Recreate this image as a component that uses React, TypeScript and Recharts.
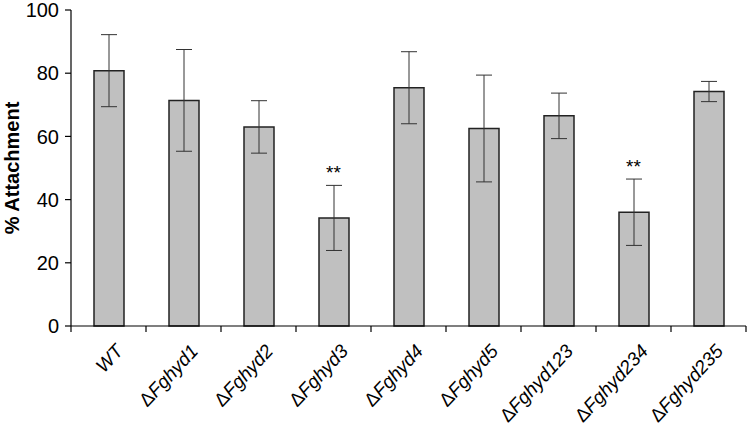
import React from 'react';
import { BarChart, Bar, XAxis, YAxis, ErrorBar, ReferenceDot } from 'recharts';

const categories = ['WT', 'ΔFghyd1', 'ΔFghyd2', 'ΔFghyd3', 'ΔFghyd4', 'ΔFghyd5', 'ΔFghyd123', 'ΔFghyd234', 'ΔFghyd235'];
const attachment = [80.8, 71.4, 63, 34.2, 75.4, 62.5, 66.5, 36, 74.2];
const errors = [11.4, 16.1, 8.3, 10.3, 11.4, 16.9, 7.2, 10.5, 3.2];
const significance = ['', '', '', '**', '', '', '', '**', ''];
const yTicks = [0, 20, 40, 60, 80, 100];
const boundaryTicks = [0, 1, 2, 3, 4, 5, 6, 7, 8, 9];

const data = categories.map((name, i) => ({
  name,
  pos: i + 0.5,
  value: attachment[i],
  err: errors[i],
  sig: significance[i],
}));

const FONT = '"Liberation Sans", Arial, sans-serif';

function CategoryTick(props: any) {
  const { x, y, payload } = props;
  const label: string = payload.value;
  const hasDelta = label.startsWith('Δ');
  return (
    <g transform={`translate(${x + 6},${y + 8})`}>
      <text
        x={0}
        y={0}
        dy="0.7em"
        textAnchor="end"
        transform="rotate(-47)"
        fontFamily={FONT}
        fontSize={19}
        fill="#000"
      >
        {hasDelta && <tspan>Δ</tspan>}
        <tspan fontStyle="italic">{hasDelta ? label.slice(1) : label}</tspan>
      </text>
    </g>
  );
}

function YLabel(props: any) {
  const { viewBox } = props;
  const cy = viewBox.y + viewBox.height / 2;
  const cx = 12;
  return (
    <text
      x={cx}
      y={cy}
      transform={`rotate(-90, ${cx}, ${cy})`}
      textAnchor="middle"
      dominantBaseline="central"
      fontFamily={FONT}
      fontSize={20}
      fontWeight="bold"
      fill="#000"
    >
      % Attachment
    </text>
  );
}

export default function App() {
  return (
    <div style={{ position: 'absolute', left: 0, top: 0, background: '#fff' }}>
      <BarChart
        width={750}
        height={428}
        data={data}
        margin={{ top: 10, right: 4, left: 0, bottom: 0 }}
        barCategoryGap={0}
      >
        <XAxis
          xAxisId="a_grid"
          dataKey="pos"
          type="number"
          domain={[0, 9]}
          ticks={boundaryTicks}
          interval={0}
          tickFormatter={() => ''}
          tickSize={6}
          height={1}
          allowDataOverflow
          axisLine={{ stroke: '#000', strokeWidth: 1.2 }}
          tickLine={{ stroke: '#000', strokeWidth: 1.2 }}
        />
        <XAxis
          xAxisId="b_cat"
          dataKey="name"
          axisLine={false}
          tickLine={false}
          interval={0}
          height={101}
          tick={<CategoryTick />}
        />
        <YAxis
          width={71}
          domain={[0, 100]}
          ticks={yTicks}
          interval={0}
          tickSize={6}
          tickMargin={6}
          axisLine={{ stroke: '#000', strokeWidth: 1.2 }}
          tickLine={{ stroke: '#000', strokeWidth: 1.2 }}
          tick={{ fill: '#000', fontSize: 20, fontFamily: FONT }}
          label={<YLabel />}
        />
        <Bar
          xAxisId="b_cat"
          dataKey="value"
          barSize={30}
          fill="#c0c0c0"
          stroke="#222"
          strokeWidth={1.5}
          isAnimationActive={false}
        >
          <ErrorBar dataKey="err" width={8} stroke="#333" strokeWidth={1} direction="y" />
        </Bar>
        {data
          .filter((d) => d.sig)
          .map((d) => (
            <ReferenceDot
              key={d.name}
              xAxisId="b_cat"
              x={d.name}
              y={d.value + d.err + 4}
              r={0}
              fill="none"
              stroke="none"
              ifOverflow="visible"
              label={{ value: d.sig, position: 'center', fill: '#000', fontSize: 19, fontFamily: FONT }}
            />
          ))}
      </BarChart>
    </div>
  );
}
